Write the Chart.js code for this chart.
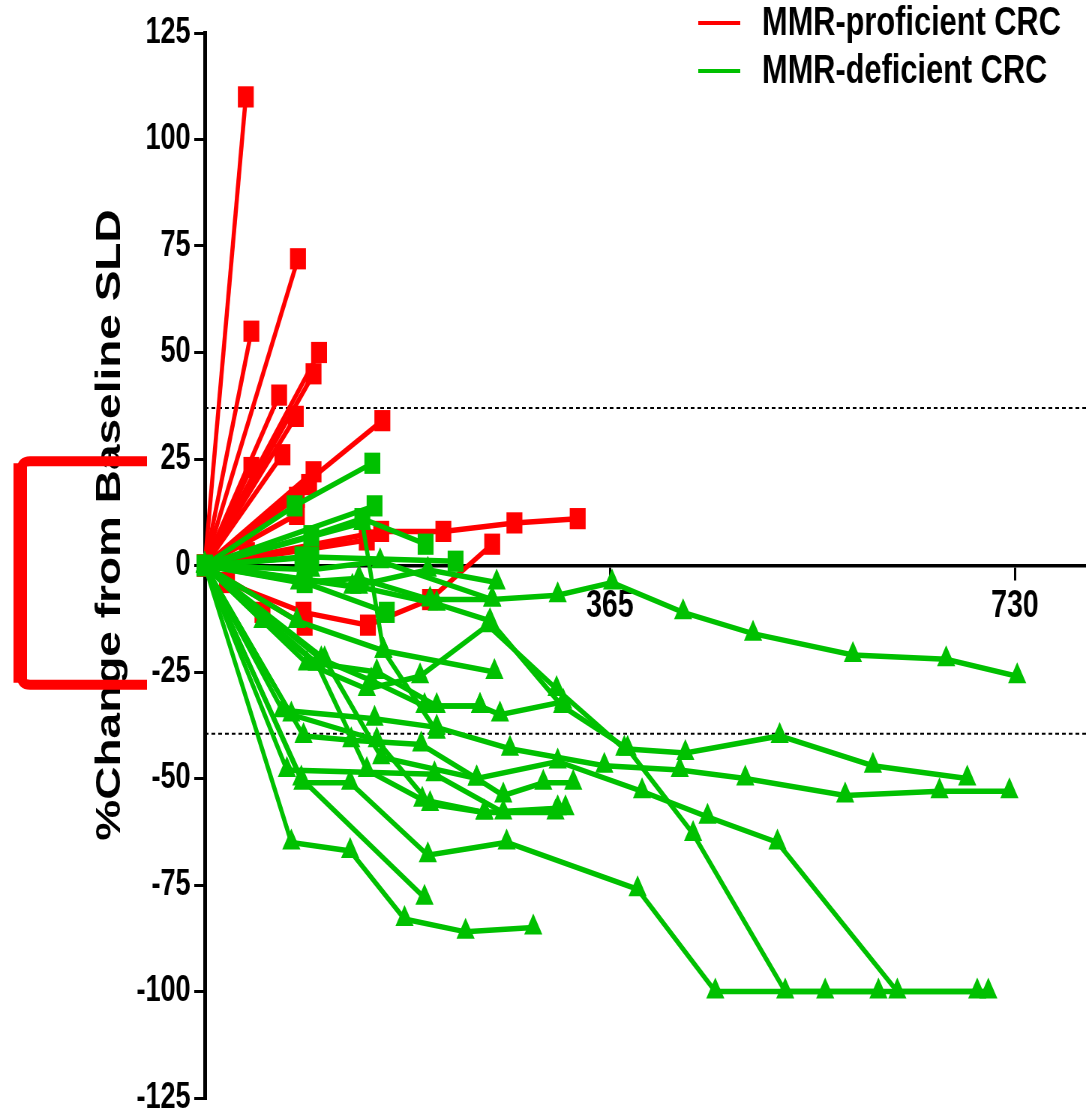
<!DOCTYPE html>
<html lang="en">
<head>
<meta charset="UTF-8">
<title>%Change from Baseline SLD</title>
<script src="https://cdn.jsdelivr.net/npm/chart.js@4.4.0/dist/chart.umd.min.js"></script>
<style>
  html, body { margin: 0; padding: 0; background: #fff; overflow: hidden; }
  /* the original figure is squeezed horizontally, so draw wide and scale down */
  .wrap { width: 1448px; height: 1114px; transform: scaleX(0.75); transform-origin: 0 0; }
</style>
</head>
<body>
<div class="wrap"><canvas id="spider"></canvas></div>
<script>
// [day, % change from baseline SLD]
const proficientSeries = [
  [[0,0],[37,110]], [[0,0],[42,55]], [[0,0],[84,72]], [[0,0],[67,40]],
  [[0,0],[103,50]], [[0,0],[98,45]], [[0,0],[82,35]], [[0,0],[70,26]],
  [[0,0],[42,23]], [[0,0],[98,22]], [[0,0],[94,19]], [[0,0],[83,16]],
  [[0,0],[83,12]], [[0,0],[160,34]],
  [[0,0],[159,8],[215,8],[279,10],[336,11]],
  [[0,0],[146,6]], [[0,0],[38,3]],
  [[0,0],[20,-4],[89,-11],[147,-14],[203,-8],[259,5]],
  [[0,0],[52,-11]], [[0,0],[90,-14]]
];

const deficientSquareSeries = [
  [[0,0],[81,14],[151,24]],
  [[0,0],[153,14]],
  [[0,0],[96,7],[142,11],[199,5]],
  [[0,0],[96,2],[226,1]],
  [[0,0],[90,-4],[164,-11]],
  [[0,0],[88,2]]
];

const deficientTriangleSeries = [
  [[0,0],[96,-1],[158,1],[259,-8],[318,-7],[367,-4],[431,-11],[494,-16],[584,-21],[668,-22],[732,-26]],
  [[0,0],[83,-13],[161,-20],[261,-25]],
  [[0,0],[52,-13],[101,-23],[155,-25],[209,-33],[248,-33],[266,-35],[323,-32]],
  [[0,0],[92,-23],[146,-29],[194,-26],[255,-14],[317,-29],[378,-43],[433,-44],[518,-40],[602,-47],[687,-50]],
  [[0,0],[139,-5],[209,-9],[257,-13],[322,-33],[381,-43],[440,-63],[523,-100],[706,-100]],
  [[0,0],[108,-22],[159,-45],[245,-50],[318,-46],[394,-53],[453,-59],[516,-65],[624,-100],[696,-100]],
  [[0,0],[70,-34],[153,-36],[209,-38],[275,-43],[360,-47],[428,-48],[487,-50],[577,-54],[662,-53],[725,-53]],
  [[0,0],[78,-35],[155,-41],[203,-56],[252,-58],[316,-58]],
  [[0,0],[89,-40],[132,-41],[195,-42],[245,-50],[269,-54],[305,-51],[332,-51]],
  [[0,0],[74,-48],[207,-49],[269,-58],[325,-57]],
  [[0,0],[87,-50],[198,-78]],
  [[0,0],[88,-51],[131,-51],[201,-68],[272,-65],[390,-76],[460,-100],[559,-100],[607,-100]],
  [[0,0],[78,-65],[131,-67],[180,-83],[235,-86],[296,-85]],
  [[0,0],[101,-23],[146,-48],[196,-55],[252,-58],[318,-57]],
  [[0,0],[105,-22],[150,-27],[198,-33],[248,-33]],
  [[0,0],[142,10],[161,-20],[209,-39]],
  [[0,0],[133,-5],[201,-1],[263,-4]],
  [[0,0],[85,-4],[139,-3],[203,-8],[259,-8]]
];

const refLines = [37, -39.5];
const bracketSpan = [24.5, -28];
const xTicks = [365, 730];
const yTicks = [-125, -100, -75, -50, -25, 0, 25, 50, 75, 100, 125];
const xMax = 794;
const legendLabels = ['MMR-proficient CRC', 'MMR-deficient CRC'];
const yTitle = '%Change from Baseline SLD';

const RED = '#ff0000';
const GREEN = '#00c000';
const FONT = "'Liberation Sans', Arial, sans-serif";

function toPoints(series) {
  return series.map(([d, v]) => ({ x: d, y: v }));
}

function seriesSet(list, color, style, radius, order) {
  return list.map(s => ({
    data: toPoints(s),
    borderColor: color,
    backgroundColor: color,
    pointBackgroundColor: color,
    pointBorderWidth: 0,
    pointStyle: style,
    pointRadius: radius,
    borderWidth: 5.5,
    tension: 0,
    clip: false,
    order: order
  }));
}

const datasets = [
  ...seriesSet(deficientSquareSeries, GREEN, 'rect', 15, 1),
  ...seriesSet(deficientTriangleSeries, GREEN, 'triangle', 14, 1),
  ...seriesSet(proficientSeries, RED, 'rect', 15, 2),
  ...refLines.map(v => ({
    data: [{ x: 0, y: v }, { x: xMax, y: v }],
    borderColor: '#000',
    borderWidth: 2,
    borderDash: [5, 4],
    pointRadius: 0,
    order: 3
  }))
];

// title, bracket and legend
const decor = {
  id: 'decor',
  afterDraw(chart) {
    const ctx = chart.ctx;
    const ys = chart.scales.y;

    // y axis title
    ctx.save();
    ctx.translate(160, 525);
    ctx.rotate(-Math.PI / 2);
    ctx.fillStyle = '#000';
    ctx.font = 'bold 46px ' + FONT;
    ctx.textAlign = 'center';
    ctx.textBaseline = 'alphabetic';
    ctx.fillText(yTitle, 0, 0);
    ctx.restore();

    // red bracket
    const yTop = ys.getPixelForValue(bracketSpan[0]);
    const yBot = ys.getPixelForValue(bracketSpan[1]);
    ctx.save();
    ctx.strokeStyle = RED;
    ctx.lineJoin = 'round';
    ctx.lineCap = 'butt';
    ctx.lineWidth = 10;
    ctx.beginPath();
    ctx.moveTo(196, yTop);
    ctx.lineTo(40, yTop);
    ctx.quadraticCurveTo(27, yTop, 27, yTop + 10);
    ctx.lineTo(27, yBot - 10);
    ctx.quadraticCurveTo(27, yBot, 40, yBot);
    ctx.lineTo(196, yBot);
    ctx.stroke();
    ctx.lineWidth = 18;
    ctx.beginPath();
    ctx.moveTo(27, yTop + 2);
    ctx.lineTo(27, yBot - 2);
    ctx.stroke();
    ctx.restore();

    // legend
    ctx.save();
    ctx.font = 'bold 41px ' + FONT;
    ctx.textBaseline = 'middle';
    ctx.fillStyle = '#000';
    [RED, GREEN].forEach((c, i) => {
      const y = 23 + i * 48;
      ctx.strokeStyle = c;
      ctx.lineWidth = 4;
      ctx.beginPath();
      ctx.moveTo(931, y);
      ctx.lineTo(987, y);
      ctx.stroke();
      ctx.fillText(legendLabels[i], 1016, y + 1);
    });
    ctx.restore();
  }
};

new Chart(document.getElementById('spider'), {
  type: 'line',
  data: { datasets },
  plugins: [decor],
  options: {
    responsive: true,
    maintainAspectRatio: false,
    animation: false,
    events: [],
    layout: { autoPadding: false, padding: { top: 33, bottom: 16, left: 0, right: 0 } },
    plugins: {
      legend: { display: false },
      tooltip: { enabled: false }
    },
    scales: {
      x: {
        type: 'linear',
        min: 0,
        max: xMax,
        position: { y: 0 },
        afterBuildTicks: s => { s.ticks = xTicks.map(v => ({ value: v })); },
        afterFit: s => { s.paddingLeft = 0; s.paddingRight = 0; },
        grid: { drawOnChartArea: false, drawTicks: true, tickLength: 13, color: '#000', lineWidth: 3 },
        border: { display: true, color: '#000', width: 3.5 },
        ticks: {
          color: '#000',
          maxRotation: 0,
          padding: 9,
          font: { family: FONT, size: 38, weight: 'bold', lineHeight: 1 }
        }
      },
      y: {
        type: 'linear',
        min: -125,
        max: 125,
        position: 'left',
        afterBuildTicks: s => { s.ticks = yTicks.map(v => ({ value: v })); },
        afterFit: s => { s.width = 273; s.paddingTop = 0; s.paddingBottom = 0; },
        grid: { drawOnChartArea: false, drawTicks: true, tickLength: 14, color: '#000', lineWidth: 3 },
        border: { display: true, color: '#000', width: 5 },
        ticks: {
          color: '#000',
          padding: 5,
          font: { family: FONT, size: 36, weight: 'bold', lineHeight: 1 }
        }
      }
    }
  }
});
</script>
</body>
</html>
